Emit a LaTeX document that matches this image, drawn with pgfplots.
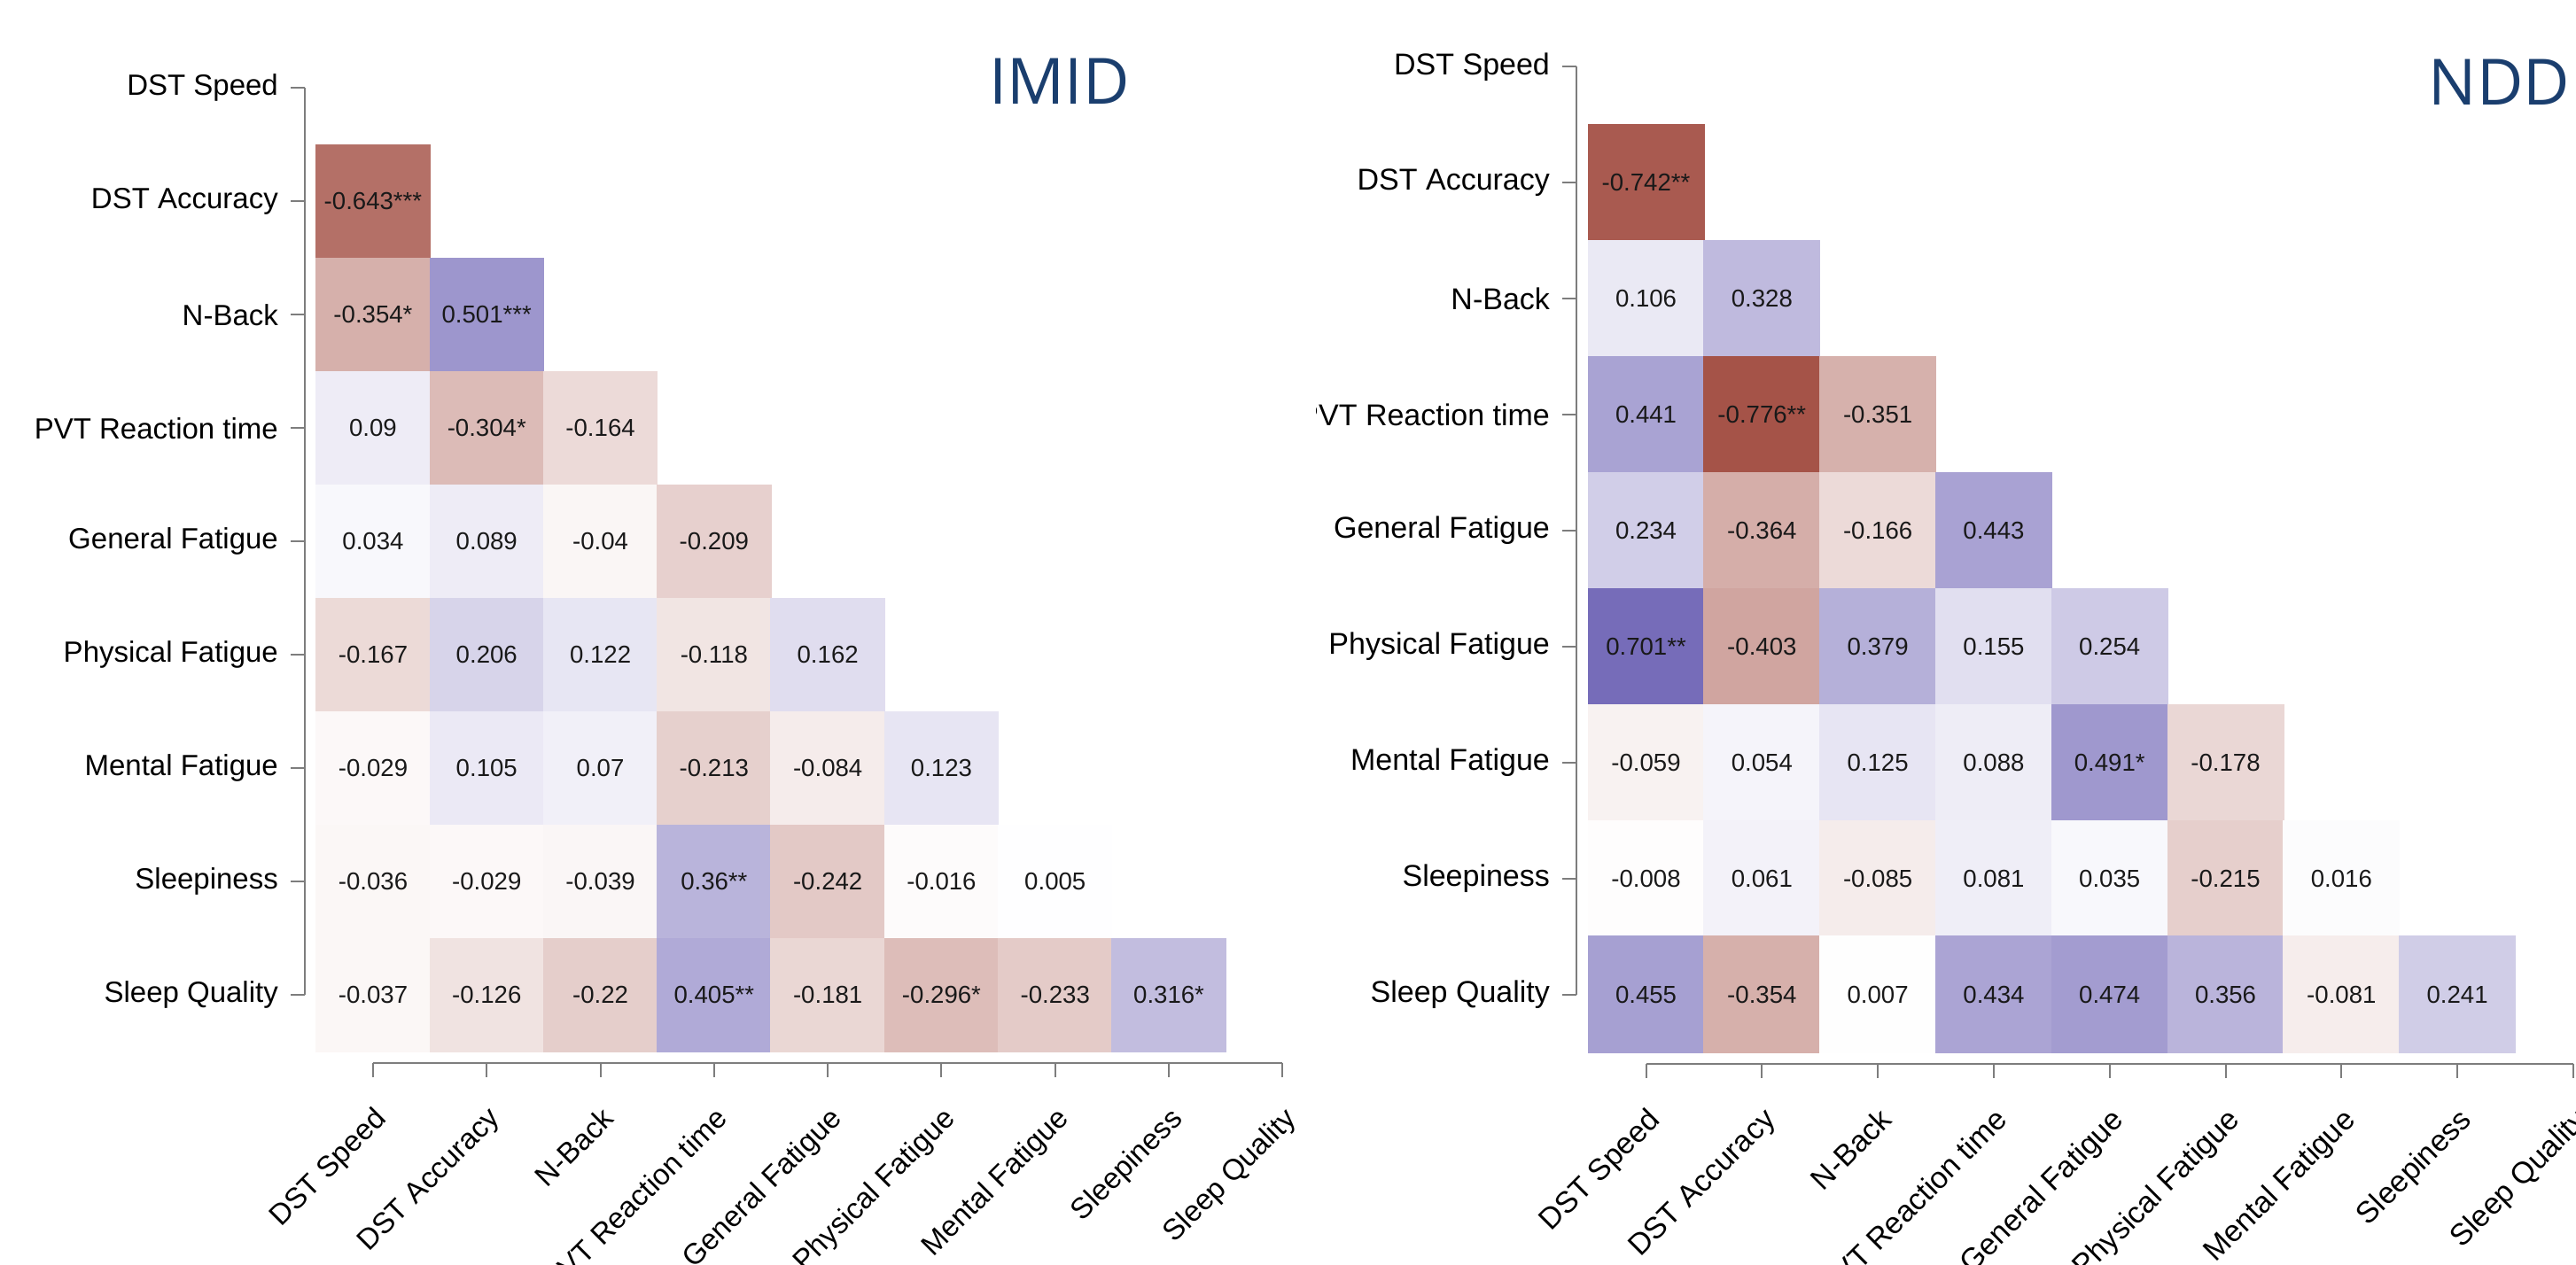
\documentclass[border=0pt]{standalone}
\usepackage{pgfplots}
\pgfplotsset{compat=1.18}
\usepackage{pgfplotstable}
\usepackage{fontspec}
\setmainfont{Liberation Sans}
\newfontfamily\titlefont{Open Sans}
\definecolor{titleblue}{RGB}{26,62,110}
\definecolor{axgray}{RGB}{125,125,125}

\pgfplotstableread{
x y v lab
0 7 -0.643 -0.643***
0 6 -0.354 -0.354*
1 6 0.501 0.501***
0 5 0.09 0.09
1 5 -0.304 -0.304*
2 5 -0.164 -0.164
0 4 0.034 0.034
1 4 0.089 0.089
2 4 -0.04 -0.04
3 4 -0.209 -0.209
0 3 -0.167 -0.167
1 3 0.206 0.206
2 3 0.122 0.122
3 3 -0.118 -0.118
4 3 0.162 0.162
0 2 -0.029 -0.029
1 2 0.105 0.105
2 2 0.07 0.07
3 2 -0.213 -0.213
4 2 -0.084 -0.084
5 2 0.123 0.123
0 1 -0.036 -0.036
1 1 -0.029 -0.029
2 1 -0.039 -0.039
3 1 0.36 0.36**
4 1 -0.242 -0.242
5 1 -0.016 -0.016
6 1 0.005 0.005
0 0 -0.037 -0.037
1 0 -0.126 -0.126
2 0 -0.22 -0.22
3 0 0.405 0.405**
4 0 -0.181 -0.181
5 0 -0.296 -0.296*
6 0 -0.233 -0.233
7 0 0.316 0.316*
}\imid

\pgfplotstableread{
x y v lab
0 7 -0.742 -0.742**
0 6 0.106 0.106
1 6 0.328 0.328
0 5 0.441 0.441
1 5 -0.776 -0.776**
2 5 -0.351 -0.351
0 4 0.234 0.234
1 4 -0.364 -0.364
2 4 -0.166 -0.166
3 4 0.443 0.443
0 3 0.701 0.701**
1 3 -0.403 -0.403
2 3 0.379 0.379
3 3 0.155 0.155
4 3 0.254 0.254
0 2 -0.059 -0.059
1 2 0.054 0.054
2 2 0.125 0.125
3 2 0.088 0.088
4 2 0.491 0.491*
5 2 -0.178 -0.178
0 1 -0.008 -0.008
1 1 0.061 0.061
2 1 -0.085 -0.085
3 1 0.081 0.081
4 1 0.035 0.035
5 1 -0.215 -0.215
6 1 0.016 0.016
0 0 0.455 0.455
1 0 -0.354 -0.354
2 0 0.007 0.007
3 0 0.434 0.434
4 0 0.474 0.474
5 0 0.356 0.356
6 0 -0.081 -0.081
7 0 0.241 0.241
}\ndd

\pgfplotsset{
  corrstyle/.style={
    scale only axis,
    xmin=-0.6, xmax=8.6, ymin=-0.6, ymax=8.6,
    axis x line*=bottom, axis y line*=left,
    axis line style={-, axgray, line width=0.5pt},
    xtick={0,...,8}, ytick={0,...,8},
    xticklabels={DST Speed, DST Accuracy, N-Back, PVT Reaction time, General Fatigue, Physical Fatigue, Mental Fatigue, Sleepiness, Sleep Quality},
    yticklabels={Sleep Quality, Sleepiness, Mental Fatigue, Physical Fatigue, General Fatigue, PVT Reaction time, N-Back, DST Accuracy, DST Speed},
    tick align=outside,
    major tick length=4pt,
    tick style={axgray, line width=0.5pt},
    colormap={corr}{rgb255=(139,33,19) rgb255=(255,255,255) rgb255=(60,45,155)},
    point meta min=-1, point meta max=1,
    clip=false,
    xticklabel shift=3pt,
    xticklabel style={rotate=45, anchor=north east, text=black},
    yticklabel style={text=black},
  },
  cells/.style={scatter, only marks, mark=square*, mark size=#1, point meta=explicit,
    scatter/use mapped color={draw=mapped color, fill=mapped color},
    mark options={line width=0.3pt}},
  cellnums/.style={only marks, mark=none, nodes near coords, point meta=explicit symbolic,
    every node near coord/.append style={font=\fontsize{6.9}{8}\selectfont, text=black!90, anchor=center}},
}

\begin{document}
\begin{tikzpicture}[x=1pt,y=1pt]
\useasboundingbox (0,0) rectangle (726.75,356.75);
\begin{scope}
\clip (0,0) rectangle (371.25,356.75);
\begin{axis}[corrstyle,
  at={(86.0pt,56.75pt)}, anchor=south west,
  width=295.09pt, height=294.4pt,
  x axis line style={shorten <=19.25pt, shorten >=19.25pt},
  y axis line style={shorten <=19.2pt, shorten >=19.2pt},
  xticklabel style={font=\fontsize{8.25}{10}\selectfont},
  yticklabel style={font=\fontsize{8.25}{10}\selectfont},
]
\addplot[cells=16.02pt] table[x=x, y=y, meta=v] {\imid};
\addplot[cellnums] table[x=x, y=y, meta=lab] {\imid};
\end{axis}
\node[anchor=base west, text=titleblue, font=\titlefont\fontsize{18}{20}\selectfont, inner sep=0pt] at (279,327.25) {IMID};
\end{scope}
\begin{scope}
\clip (371.25,0) rectangle (726.75,356.75);
\begin{axis}[corrstyle,
  at={(444.76pt,56.49pt)}, anchor=south west,
  width=300.84pt, height=301.07pt,
  x axis line style={shorten <=19.62pt, shorten >=19.62pt},
  y axis line style={shorten <=19.63pt, shorten >=19.63pt},
  xticklabel style={font=\fontsize{8.5}{10}\selectfont},
  yticklabel style={font=\fontsize{8.5}{10}\selectfont},
]
\addplot[cells=16.36pt] table[x=x, y=y, meta=v] {\ndd};
\addplot[cellnums] table[x=x, y=y, meta=lab] {\ndd};
\end{axis}
\node[anchor=base west, text=titleblue, font=\titlefont\fontsize{18}{20}\selectfont, inner sep=0pt] at (685,327) {NDD};
\end{scope}
\end{tikzpicture}
\end{document}
